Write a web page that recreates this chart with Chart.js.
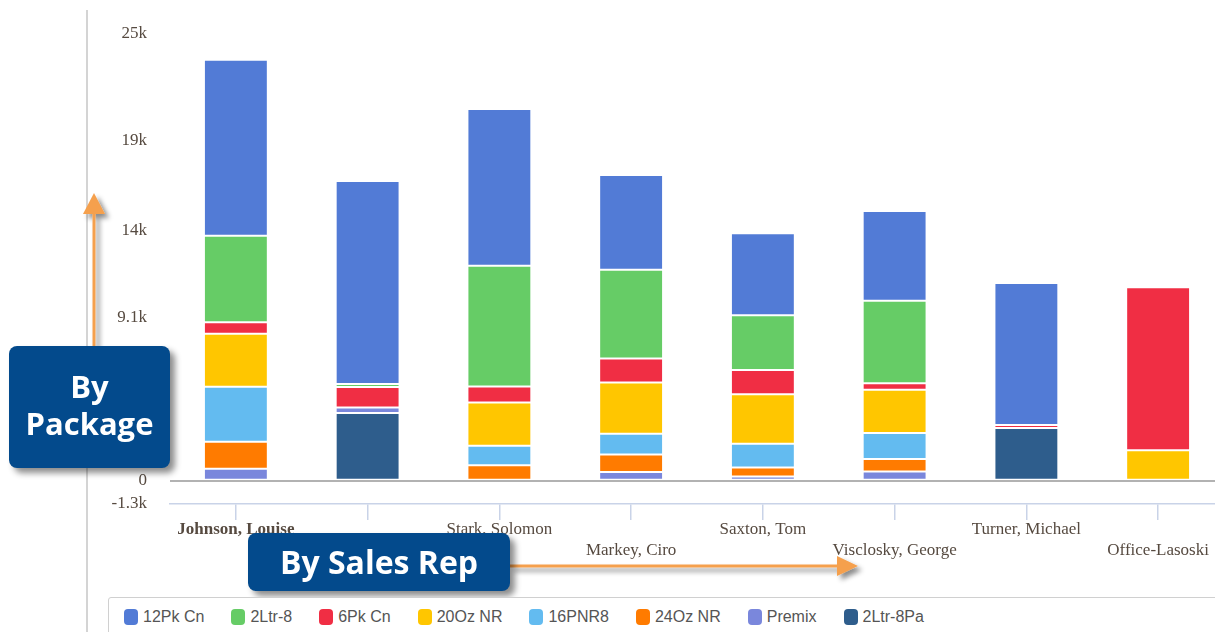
<!DOCTYPE html>
<html lang="en">
<head>
<meta charset="UTF-8" />
<title>Sales by Package and Sales Rep</title>
<script src="https://cdn.jsdelivr.net/npm/chart.js"></script>
<style>
  html, body { margin: 0; padding: 0; background: #fff; }
  body { width: 1215px; height: 632px; overflow: hidden; position: relative; }
  .frame-line { position: absolute; left: 86px; top: 10px; width: 2px; height: 640px; background: #d4d4d4; }
  .chart-wrap { position: absolute; left: 0; top: 0; width: 1226px; height: 592px; }
  .legend-box {
    position: absolute; left: 108px; top: 597px; width: 1120px; height: 44px;
    border: 1px solid #d0d0d0; border-radius: 3px; background: #fff;
    display: flex; align-items: flex-start; padding: 10px 0 0 15px; box-sizing: border-box;
    font-family: "Liberation Sans", Arial, sans-serif; font-size: 16px; color: #555;
  }
  .legend-item { display: flex; align-items: center; margin-right: 27px; }
  .legend-item span.sw { width: 14px; height: 16px; border-radius: 4px; margin-right: 5px; display: inline-block; }
  .callout {
    position: absolute; background: #034a8c; color: #fff; border-radius: 8px;
    box-shadow: 5px 5px 6px rgba(0,0,0,0.45);
    font-family: "Open Sans", sans-serif; font-weight: 700; text-align: center;
  }
  #pkg { left: 9px; top: 346px; width: 161px; height: 122px; font-size: 31px; line-height: 37px; padding-top: 22px; box-sizing: border-box; }
  #rep { left: 248px; top: 533px; width: 262px; height: 58px; font-size: 32px; line-height: 58px; }
  svg.arrows { position: absolute; left: 0; top: 0; width: 1215px; height: 632px; pointer-events: none; }
</style>
</head>
<body>

<div class="frame-line"></div>
<div class="chart-wrap"><canvas id="salesChart"></canvas></div>

<svg class="arrows">
  <defs>
    <filter id="sh" x="-50%" y="-50%" width="200%" height="200%">
      <feDropShadow dx="4" dy="4" stdDeviation="2.5" flood-color="#000" flood-opacity="0.45"/>
    </filter>
  </defs>
  <g filter="url(#sh)" fill="#f5a04e" stroke="none">
    <rect x="92.5" y="206" width="3" height="144"/>
    <polygon points="94,193 83,214 105,214"/>
    <rect x="510" y="564.5" width="330" height="3"/>
    <polygon points="858,566 837,556 837,576"/>
  </g>
</svg>

<div class="callout" id="pkg">By<br>Package</div>
<div class="callout" id="rep">By Sales Rep</div>

<div class="legend-box" id="legend"></div>

<script>
// categories (sales reps); the 2nd label sits under the "By Sales Rep" callout
const reps = ['Johnson, Louise', '', 'Stark, Solomon', 'Markey, Ciro', 'Saxton, Tom', 'Visclosky, George', 'Turner, Michael', 'Office-Lasoski'];

// packages, in legend order
const packages = ['12Pk Cn', '2Ltr-8', '6Pk Cn', '20Oz NR', '16PNR8', '24Oz NR', 'Premix', '2Ltr-8Pa'];
const colors = ['#527bd6', '#66cc66', '#f02e44', '#ffc600', '#63bbf0', '#ff7b00', '#7a87dc', '#2e5d8c'];

const pk12Cn  = [9820, 11330, 8760, 5300, 4590, 5010, 7940, 0];
const ltr2_8  = [4840, 170, 6750, 4950, 3050, 4610, 0, 0];
const pk6Cn   = [640, 1150, 890, 1340, 1360, 370, 170, 9110];
const oz20NR  = [2960, 0, 2420, 2860, 2770, 2420, 0, 1700];
const pnr16   = [3070, 0, 1080, 1160, 1320, 1450, 0, 0];
const oz24NR  = [1510, 0, 870, 980, 500, 690, 0, 0];
const premix  = [670, 300, 0, 490, 240, 520, 0, 0];
const ltr2_8Pa = [0, 3790, 0, 0, 0, 0, 2940, 0];

const seriesValues = [pk12Cn, ltr2_8, pk6Cn, oz20NR, pnr16, oz24NR, premix, ltr2_8Pa];

// y axis ticks as shown
const yTickValues = [-1300, 0, 9100, 14000, 19000, 25000];
const yTickLabels = ['-1.3k', '0', '9.1k', '14k', '19k', '25k'];

// stacking goes bottom-up, legend order is top-down
const datasets = packages.map((name, i) => ({
  label: name,
  data: seriesValues[i],
  backgroundColor: colors[i],
  borderColor: 'rgba(255,255,255,0.9)',
  borderWidth: 1,
  borderSkipped: false,
  categoryPercentage: 1,
  barPercentage: 0.485
})).reverse();

const tickColor = '#564a40';
const serif = '"Liberation Serif", "Times New Roman", serif';

new Chart(document.getElementById('salesChart').getContext('2d'), {
  type: 'bar',
  data: { labels: reps, datasets },
  options: {
    responsive: true,
    maintainAspectRatio: false,
    animation: false,
    layout: { padding: { top: 26, right: 2, left: 0, bottom: 0 } },
    plugins: {
      legend: { display: false },
      tooltip: { enabled: false }
    },
    scales: {
      x: {
        stacked: true,
        offset: true,
        border: { display: true, color: '#c9d3e8', width: 1.5 },
        grid: {
          offset: false,
          drawOnChartArea: false,
          drawTicks: true,
          tickLength: 16,
          color: '#c9d3e8',
          lineWidth: 1.5
        },
        ticks: {
          autoSkip: false,
          maxRotation: 0,
          padding: 0,
          color: tickColor,
          font: (ctx) => ({
            family: serif,
            size: 17,
            weight: ctx.index === 0 ? 'bold' : 'normal',
            lineHeight: 1.18
          }),
          callback: function (value, index) {
            const name = this.getLabelForValue(value);
            return index % 2 === 0 ? name : ['', name];
          }
        },
        afterFit: (scale) => { scale.height = 88; }
      },
      y: {
        stacked: true,
        min: -1300,
        max: 25000,
        afterBuildTicks: (scale) => { scale.ticks = yTickValues.map(v => ({ value: v })); },
        border: { display: false },
        grid: {
          drawTicks: false,
          color: (ctx) => ctx.tick && ctx.tick.value === 0 ? '#b2b2b2' : 'rgba(0,0,0,0)',
          lineWidth: 2
        },
        ticks: {
          padding: 23,
          color: tickColor,
          font: { family: serif, size: 17 },
          callback: (value) => yTickLabels[yTickValues.indexOf(value)]
        },
        afterFit: (scale) => { scale.width = 170; }
      }
    }
  }
});

// HTML legend built from the same arrays
const legend = document.getElementById('legend');
packages.forEach((name, i) => {
  const item = document.createElement('div');
  item.className = 'legend-item';
  item.innerHTML = `<span class="sw" style="background:${colors[i]}"></span>${name}`;
  legend.appendChild(item);
});
</script>
</body>
</html>
